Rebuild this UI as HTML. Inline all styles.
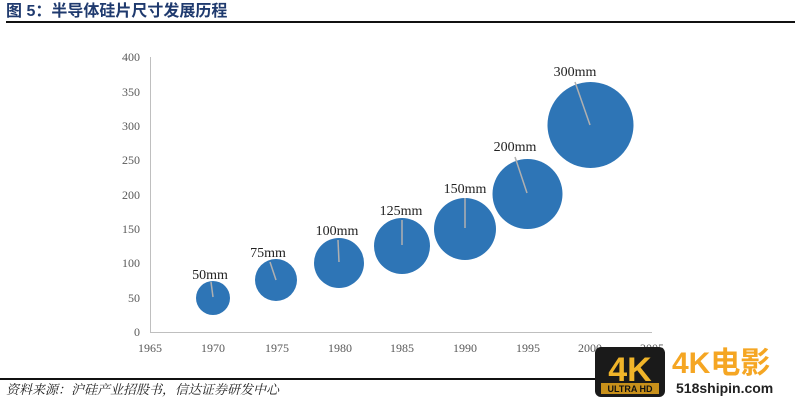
<!DOCTYPE html>
<html><head><meta charset="utf-8"><style>
body{margin:0;background:#fff;width:795px;height:400px;overflow:hidden;position:relative}
</style></head><body>
<svg width="795" height="400" xmlns="http://www.w3.org/2000/svg" style="position:absolute;left:0;top:0">
<text x="6" y="16" font-family="'Liberation Sans','Noto Sans CJK SC',sans-serif" font-size="16" font-weight="bold" fill="#1f3a6e">图 5：半导体硅片尺寸发展历程</text>
<rect x="6" y="21" width="789" height="2" fill="#111"/>
<g stroke="#bfbfbf" stroke-width="1" fill="none">
<line x1="150.5" y1="57" x2="150.5" y2="332"/>
<line x1="150" y1="332.5" x2="652" y2="332.5"/>
</g>
<g font-family="'Liberation Serif',serif" font-size="12" fill="#595959" text-anchor="end">
<text x="140" y="61">400</text><text x="140" y="96">350</text><text x="140" y="130">300</text><text x="140" y="164">250</text><text x="140" y="199">200</text><text x="140" y="233">150</text><text x="140" y="267">100</text><text x="140" y="302">50</text><text x="140" y="336">0</text>
</g>
<g font-family="'Liberation Serif',serif" font-size="12" fill="#595959" text-anchor="middle">
<text x="150" y="352">1965</text><text x="213" y="352">1970</text><text x="277" y="352">1975</text><text x="340" y="352">1980</text><text x="402" y="352">1985</text><text x="465" y="352">1990</text><text x="528" y="352">1995</text><text x="590" y="352">2000</text><text x="652" y="352">2005</text>
</g>
<g fill="#2e75b6">
<circle cx="213" cy="298" r="17"/>
<circle cx="276" cy="280" r="21"/>
<circle cx="339" cy="263" r="25"/>
<circle cx="402" cy="246" r="28"/>
<circle cx="465" cy="229" r="31"/>
<circle cx="527.5" cy="194" r="35"/>
<circle cx="590.5" cy="125" r="43"/>
</g>
<g stroke="#b0b0b0" stroke-width="1.5">
<line x1="211" y1="282" x2="213" y2="297"/>
<line x1="270" y1="262" x2="276" y2="280"/>
<line x1="338" y1="240" x2="339" y2="262"/>
<line x1="402" y1="220" x2="402" y2="245"/>
<line x1="465" y1="198" x2="465" y2="228"/>
<line x1="515" y1="157" x2="527" y2="193"/>
<line x1="575" y1="82" x2="590" y2="125"/>
</g>
<g font-family="'Liberation Serif',serif" font-size="14" fill="#222" text-anchor="middle">
<text x="210" y="279">50mm</text><text x="268" y="257">75mm</text><text x="337" y="235">100mm</text><text x="401" y="215">125mm</text><text x="465" y="193">150mm</text><text x="515" y="151">200mm</text><text x="575" y="76">300mm</text>
</g>
<rect x="0" y="378" width="600" height="2" fill="#111"/>
<text x="6" y="394" font-family="'Liberation Serif','Noto Serif CJK SC',serif" font-size="13" font-style="italic" fill="#222">资料来源：沪硅产业招股书，信达证券研发中心</text>
<rect x="595" y="347" width="70" height="50" rx="6" fill="#1a1a1a"/>
<text x="630" y="381" font-family="'Liberation Sans',sans-serif" font-size="34" font-weight="bold" fill="#f0b429" text-anchor="middle">4K</text>
<rect x="601" y="383" width="58" height="11" fill="#c8901a"/>
<text x="630" y="392" font-family="'Liberation Sans',sans-serif" font-size="9" font-weight="bold" fill="#111" text-anchor="middle">ULTRA HD</text>
<text x="672" y="373" font-family="'Liberation Sans','Noto Sans CJK SC',sans-serif" font-size="30" font-weight="bold" fill="#f5a623">4K电影</text>
<text x="676" y="393" font-family="'Liberation Sans',sans-serif" font-size="14" font-weight="bold" fill="#222">518shipin.com</text>
</svg>
</body></html>
